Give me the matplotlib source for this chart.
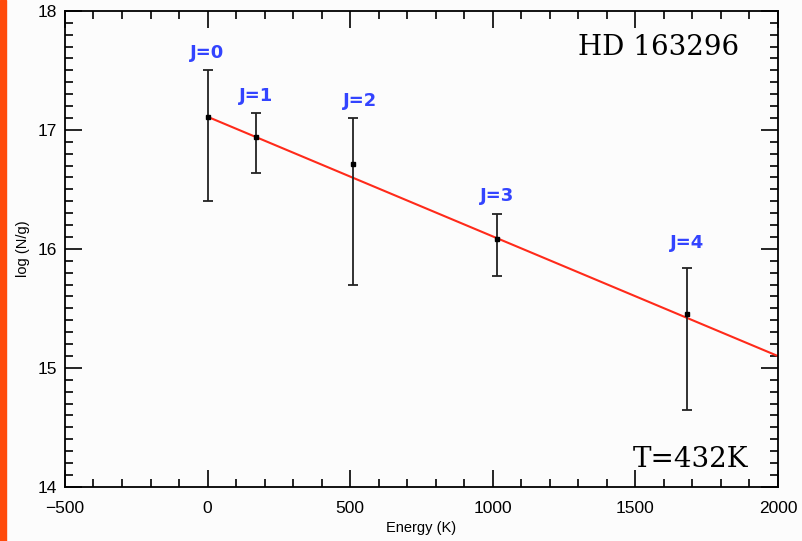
import numpy as np
import matplotlib
matplotlib.use("Agg")
from matplotlib import pyplot as plt
from matplotlib.patches import Rectangle
from matplotlib.ticker import MultipleLocator

# level energies (K) and column densities
energy = [0.0, 170.5, 509.9, 1015.1, 1681.6]
logNg = [17.11, 16.94, 16.71, 16.08, 15.45]
err_lo = [0.71, 0.30, 1.01, 0.31, 0.80]
err_hi = [0.39, 0.20, 0.39, 0.21, 0.39]
labels = ["J=0", "J=1", "J=2", "J=3", "J=4"]
label_y = [17.57, 17.21, 17.17, 16.37, 15.97]
label_dx = [0, 0, 25, 0, 0]

T_ex = 432.0
fit_x = np.array([0.0, 2000.0])
fit_y = logNg[0] - np.log10(np.e) / T_ex * fit_x

plt.rcParams["font.family"] = ["Liberation Sans", "DejaVu Sans"]

fig = plt.figure(figsize=(8.02, 5.41), dpi=100)
fig.patch.set_facecolor("#fcfcfc")
fig.add_artist(Rectangle((0, 0), 0.008, 1, transform=fig.transFigure,
                         color="#ff4a0a", zorder=10))
ax = fig.add_axes([0.081, 0.100, 0.889, 0.880])
ax.set_facecolor("#fcfcfc")

ax.plot(fit_x, fit_y, color="#ff2a1a", lw=1.5, zorder=2)
ax.errorbar(energy, logNg, yerr=[err_lo, err_hi], fmt="s", color="black",
            ms=3, ecolor="#222222", elinewidth=1.3, capsize=3.6,
            capthick=1.3, zorder=3)

for x, y, t, dx in zip(energy, label_y, labels, label_dx):
    ax.text(x + dx, y, t, color="#3344ff", fontsize=13, fontweight="bold",
            family="DejaVu Sans", ha="center", va="bottom")

ax.text(0.945, 0.922, "HD 163296", transform=ax.transAxes, ha="right",
        va="center", fontsize=20, family="DejaVu Serif")
ax.text(0.958, 0.057, "T=432K", transform=ax.transAxes, ha="right",
        va="center", fontsize=20, family="DejaVu Serif")

ax.set_xlim(-500, 2000)
ax.set_ylim(14, 18)
ax.xaxis.set_major_locator(MultipleLocator(500))
ax.xaxis.set_minor_locator(MultipleLocator(100))
ax.yaxis.set_major_locator(MultipleLocator(1))
ax.yaxis.set_minor_locator(MultipleLocator(0.1))
ax.tick_params(which="both", direction="in", top=True, right=True,
               width=1.2, labelsize=12.5)
ax.tick_params(which="major", length=12)
ax.tick_params(which="minor", length=6)
ax.tick_params(axis="x", which="major", pad=10)
ax.tick_params(axis="y", which="major", pad=6)
for s in ax.spines.values():
    s.set_linewidth(1.3)

ax.set_xlabel("Energy (K)", fontsize=10.5, labelpad=4)
ax.set_ylabel("log (N/g)", fontsize=10.5, labelpad=5)

fig.savefig("out.png", dpi=100)
